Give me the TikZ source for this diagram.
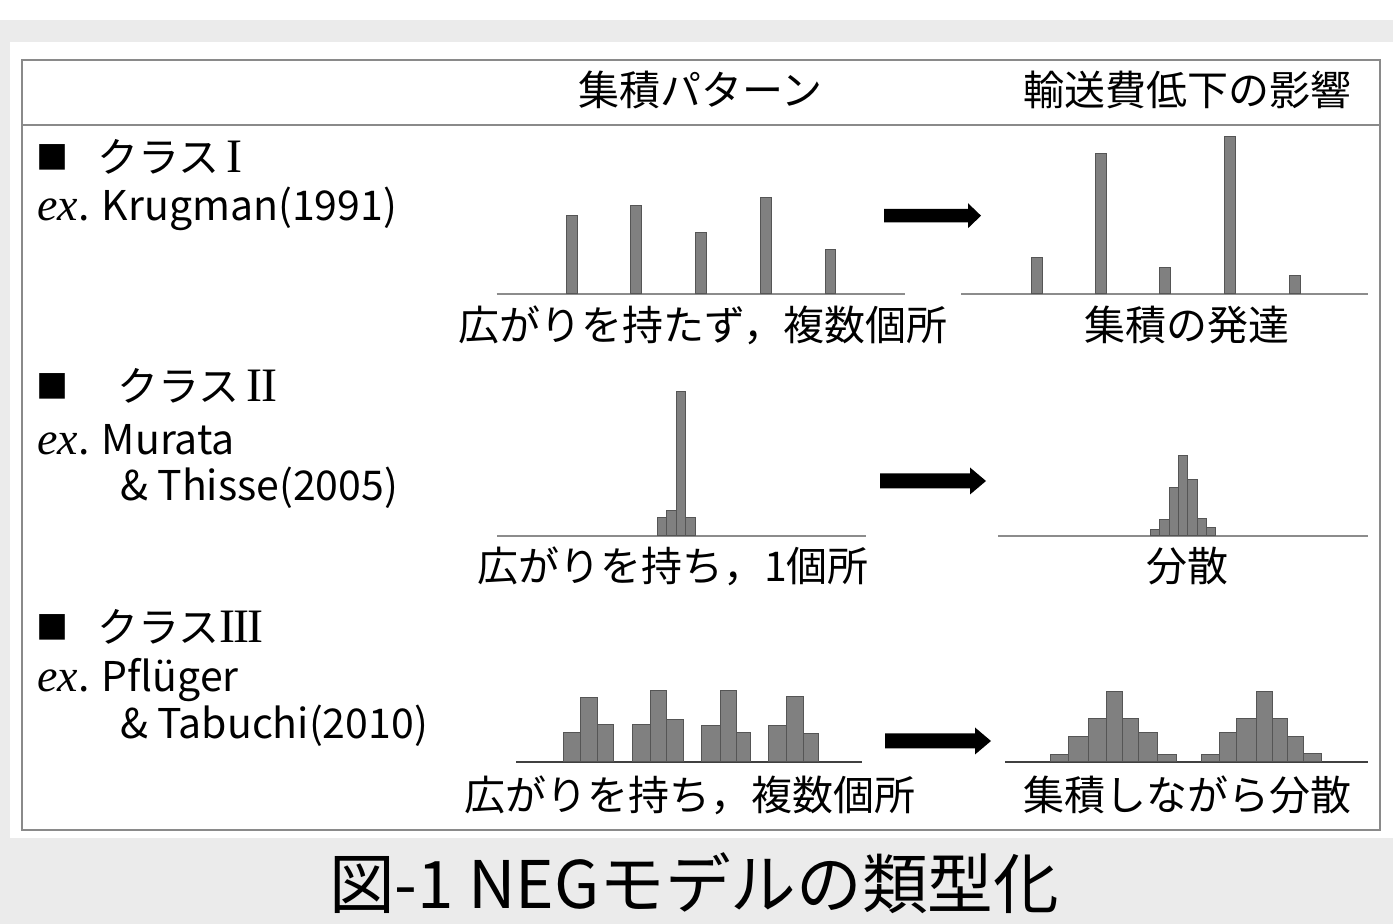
\documentclass[tikz,border=0pt]{standalone}
\usepackage{fontspec}
\setmainfont{Noto Sans CJK JP}
\newfontfamily\serif{Liberation Serif}
\definecolor{bggray}{HTML}{EBEBEB}
\definecolor{boxgray}{HTML}{8A8A8A}
\definecolor{barfill}{HTML}{808080}
\definecolor{baredge}{HTML}{555555}
\definecolor{axisgray}{HTML}{8C8C8C}
\definecolor{axisdark}{HTML}{404040}
\newcommand\romn[1]{{\fontsize{24pt}{24pt}\serif #1}}
\newcommand\exit{{\fontsize{23pt}{24pt}\serif\itshape ex}}
\tikzset{
  lbl/.style={inner sep=0pt, font=\fontsize{20.5pt}{24pt}\selectfont},
  lblw/.style={lbl, anchor=west},
  sqmark/.style={inner sep=0pt, font=\fontsize{16pt}{18pt}\selectfont},
  barbox/.style={fill=barfill, draw=baredge, line width=0.5pt},
  axis/.style={draw=axisgray, line width=1pt},
  axisd/.style={draw=axisdark, line width=1pt},
  blk/.style={fill=black},
}
\newcommand\blkarrow[6]{% x0 x1 y halfshaft halfhead headlen
  \fill[blk] (#1,#3-#4) -- (#2-#6,#3-#4) -- (#2-#6,#3-#5) -- (#2,#3) -- (#2-#6,#3+#5) -- (#2-#6,#3+#4) -- (#1,#3+#4) -- cycle;}
\begin{document}
\begin{tikzpicture}[x=0.5pt,y=-0.5pt]
\useasboundingbox (0,0) rectangle (1393,924);
\fill[white] (0,0) rectangle (1393,924);
\fill[bggray] (0,20) rectangle (1393,924);
\fill[white] (10,42) rectangle (1393,838);
\draw[boxgray, line width=1pt] (22,60) rectangle (1380,830);
\draw[boxgray, line width=1pt] (22,125) -- (1380,125);

% headers
\node[lbl] (h1) at (700,90) {集積パターン};
\node[lbl] (h2) at (1187,90) {輸送費低下の影響};

% class labels
\node[sqmark] (sq1) at (52.5,157) {■};
\node[lblw] (c1) at (97,157) {クラス\,\romn{I}};
\node[lblw] (e1) at (37,209) {\exit. Krugman(1991)};

\node[sqmark] (sq2) at (52.5,386) {■};
\node[lblw] (c2) at (117,386) {クラス\,\romn{I\kern-0.02em I}};
\node[lblw] (e2) at (37,440) {\exit. Murata};
\node[lblw] (e2b) at (120,488) {\& Thisse(2005)};

\node[sqmark] (sq3) at (52.5,627) {■};
\node[lblw] (c3) at (97,627) {クラス\romn{I\kern-0.04em I\kern-0.04em I}};
\node[lblw] (e3) at (37,680) {\exit. Pflüger};
\node[lblw] (e3b) at (120,726) {\& Tabuchi(2010)};

% ---------- class I ----------
\draw[axis] (496.7,293.7) -- (905,293.7);
\draw[axis] (961,294) -- (1368.3,294);
\foreach \a/\b/\t in {566.7/577.7/215.3, 630.7/641.7/206, 695/706.3/232.7, 760/771/198, 825/835.7/249.7}
  \draw[barbox] (\a,293.7) rectangle (\b,\t);
\foreach \a/\b/\t in {1031/1042.3/258, 1095/1106/154, 1159.3/1170.7/267.7, 1224/1235.3/136.7, 1289/1300/275.7}
  \draw[barbox] (\a,294) rectangle (\b,\t);
\blkarrow{884}{981}{215.7}{6.7}{12.5}{13}
\node[lbl] (l1) at (703,325) {広がりを持たず，複数個所};
\node[lbl] (r1) at (1187,325) {集積の発達};

% ---------- class II ----------
\draw[axis] (497,536) -- (866,536);
\draw[axis] (998,536) -- (1368,536);
\foreach \a/\b/\t in {657/666.5/518, 666.5/676/511, 676/685.5/392, 685.5/695/518}
  \draw[barbox] (\a,535.7) rectangle (\b,\t);
\foreach \a/\b/\t in {1150/1159.3/530, 1159.3/1169/519.3, 1169/1178.3/487.3, 1178.3/1187.7/455.7, 1187.7/1197/479.7, 1197/1206.3/518.3, 1206.3/1215.7/527.3}
  \draw[barbox] (\a,535.7) rectangle (\b,\t);
\blkarrow{880}{986}{481}{7.5}{13.5}{16}
\node[lbl] (l2) at (673,566) {広がりを持ち，1個所};
\node[lbl] (r2) at (1187,566) {分散};

% ---------- class III ----------
\draw[axisd] (516,762) -- (862,762);
\draw[axisd] (1005,762) -- (1368,762);
\foreach \a/\b/\t in {563.3/580.7/732.7, 580.7/597.3/698, 597.3/613.3/724.7,
                     632.7/650.3/725, 650.3/666.7/691, 666.7/683.3/720,
                     701/720/725.7, 720/736/691, 736/750.7/732.7,
                     768.7/786/725.7, 786/803.3/696.7, 803.3/818/733.3}
  \draw[barbox] (\a,761.7) rectangle (\b,\t);
\foreach \a/\b/\t in {1050.7/1068.7/754.7, 1068.7/1088/736.7, 1088/1106.3/719, 1106.3/1122.3/691.3, 1122.3/1138.7/719, 1138.7/1157.3/732.7, 1157.3/1176.7/754.7,
                     1201/1219/754.7, 1219/1236.7/732.7, 1236.7/1256/719, 1256/1272/691.3, 1272/1287/719, 1287/1303.3/736.7, 1303.3/1321/753.3}
  \draw[barbox] (\a,761.7) rectangle (\b,\t);
\blkarrow{885}{991}{741}{7.5}{13.5}{16}
\node[lbl] (l3) at (690,795) {広がりを持ち，複数個所};
\node[lbl] (r3) at (1187,795) {集積しながら分散};

% caption
\node[inner sep=0pt, font=\fontsize{32.8pt}{38pt}\selectfont] (cap) at (694,883) {図-1 NEGモデルの類型化};
\end{tikzpicture}
\end{document}
